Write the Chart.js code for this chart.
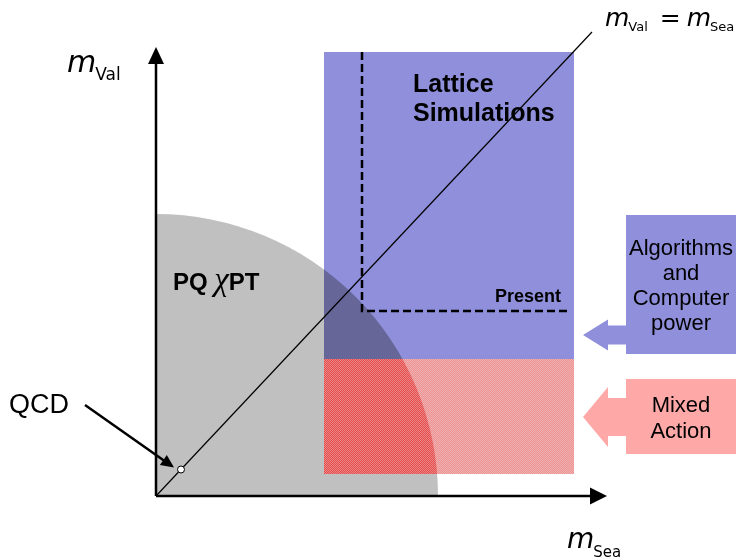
<!DOCTYPE html>
<html>
<head>
<meta charset="utf-8">
<script src="https://cdn.jsdelivr.net/npm/chart.js@4.4.1/dist/chart.umd.min.js"></script>
<style>
  html, body { margin: 0; padding: 0; background: #fff; }
  #wrap { width: 736px; height: 560px; position: relative; }
</style>
</head>
<body>
<div id="wrap"><canvas id="chart"></canvas></div>
<script>
// diagram values, in (m_Sea, m_Val) units
const pqRadius = 2.82;              // PQ chiPT validity region
const latticeSea = [1.68, 4.18];    // m_Sea span of lattice simulations
const latticeVal = [1.37, 4.44];    // m_Val span of full dynamical runs
const mixedVal = [0.22, 1.37];      // m_Val span reached by mixed action
const presentSea = [2.06, 4.13];    // present frontier, m_Sea
const presentVal = [1.85, 4.44];    // present frontier, m_Val
const qcdPoint = [0.25, 0.265];
const diagonalEnd = [4.36, 4.64];   // m_Val = m_Sea line
const axisEnd = [4.51, 4.49];

const regionLabels = ['PQ', 'PT', 'Lattice', 'Simulations', 'Present'];
const algoLines = ['Algorithms', 'and', 'Computer', 'power'];
const mixedLines = ['Mixed', 'Action'];

const SANS = '"Liberation Sans", Arial, Helvetica, sans-serif';

function makePattern(base, dot) {
    const c = document.createElement('canvas');
    c.width = 2; c.height = 2;
    const g = c.getContext('2d');
    g.fillStyle = base; g.fillRect(0, 0, 2, 2);
    g.fillStyle = dot; g.fillRect(0, 0, 1, 1); g.fillRect(1, 1, 1, 1);
    return g.createPattern(c, 'repeat');
}

function blockArrow(ctx, tipX, tipY, baseX, boxX, headHalf, bodyHalf, color) {
    ctx.fillStyle = color;
    ctx.beginPath();
    ctx.moveTo(tipX, tipY);
    ctx.lineTo(baseX, tipY - headHalf);
    ctx.lineTo(baseX, tipY - bodyHalf);
    ctx.lineTo(boxX + 1, tipY - bodyHalf);
    ctx.lineTo(boxX + 1, tipY + bodyHalf);
    ctx.lineTo(baseX, tipY + bodyHalf);
    ctx.lineTo(baseX, tipY + headHalf);
    ctx.closePath();
    ctx.fill();
}

function arrowHead(ctx, x0, y0, x1, y1, len, half) {
    const a = Math.atan2(y1 - y0, x1 - x0);
    ctx.beginPath();
    ctx.moveTo(x1, y1);
    ctx.lineTo(x1 - len * Math.cos(a) + half * Math.sin(a), y1 - len * Math.sin(a) - half * Math.cos(a));
    ctx.lineTo(x1 - len * Math.cos(a) - half * Math.sin(a), y1 - len * Math.sin(a) + half * Math.cos(a));
    ctx.closePath();
    ctx.fill();
}

function massLabel(ctx, x, y, sub, mSize, subSize, drop) {
    ctx.font = 'oblique ' + mSize + 'px "DejaVu Sans"';
    ctx.textAlign = 'left';
    ctx.fillText('m', x, y);
    const w = ctx.measureText('m').width;
    ctx.font = subSize + 'px "DejaVu Sans"';
    ctx.fillText(sub, x + w - 1, y + drop);
    return x + w - 1 + ctx.measureText(sub).width;
}

const regions = {
    id: 'regions',
    beforeDatasetsDraw(chart) {
        const ctx = chart.ctx;
        const xs = chart.scales.x, ys = chart.scales.y;
        const X = v => xs.getPixelForValue(v), Y = v => ys.getPixelForValue(v);
        const ox = X(0), oy = Y(0);
        const r = X(pqRadius) - ox;
        const disk = () => { ctx.beginPath(); ctx.moveTo(ox, oy); ctx.arc(ox, oy, r, -Math.PI / 2, 0); ctx.closePath(); };

        ctx.save();
        // PQ chiPT region
        ctx.fillStyle = '#c0c0c0';
        disk(); ctx.fill();

        const lx0 = X(latticeSea[0]), lx1 = X(latticeSea[1]);
        // lattice simulations
        ctx.fillStyle = '#8f8fdb';
        ctx.fillRect(lx0, Y(latticeVal[1]), lx1 - lx0, Y(latticeVal[0]) - Y(latticeVal[1]));
        // mixed action
        ctx.fillStyle = makePattern('#f29393', '#ecb0b0');
        ctx.fillRect(lx0, Y(mixedVal[1]), lx1 - lx0, Y(mixedVal[0]) - Y(mixedVal[1]));

        // overlaps with the PQ region
        ctx.save();
        disk(); ctx.clip();
        ctx.fillStyle = '#666699';
        ctx.fillRect(lx0, Y(latticeVal[1]), lx1 - lx0, Y(latticeVal[0]) - Y(latticeVal[1]));
        ctx.fillStyle = makePattern('#ec4848', '#e48a8a');
        ctx.fillRect(lx0, Y(mixedVal[1]), lx1 - lx0, Y(mixedVal[0]) - Y(mixedVal[1]));
        ctx.restore();

        // present frontier
        ctx.strokeStyle = '#000';
        ctx.lineWidth = 2.5;
        ctx.setLineDash([8, 4]);
        ctx.beginPath();
        ctx.moveTo(X(presentSea[0]), Y(presentVal[1]));
        ctx.lineTo(X(presentSea[0]), Y(presentVal[0]));
        ctx.lineTo(X(presentSea[1]), Y(presentVal[0]));
        ctx.stroke();
        ctx.restore();
    },
    afterDatasetsDraw(chart) {
        const ctx = chart.ctx;
        const xs = chart.scales.x, ys = chart.scales.y;
        const X = v => xs.getPixelForValue(v), Y = v => ys.getPixelForValue(v);
        const ox = X(0), oy = Y(0);
        ctx.save();
        ctx.fillStyle = '#000';
        ctx.strokeStyle = '#000';

        // axes
        ctx.lineWidth = 2.5;
        ctx.beginPath();
        ctx.moveTo(ox, oy); ctx.lineTo(ox, Y(axisEnd[1]) + 10);
        ctx.moveTo(ox, oy); ctx.lineTo(X(axisEnd[0]) - 10, oy);
        ctx.stroke();
        arrowHead(ctx, ox, oy, ox, Y(axisEnd[1]), 17, 8);
        arrowHead(ctx, ox, oy, X(axisEnd[0]), oy, 17, 8.5);

        // QCD pointer
        const qx = X(qcdPoint[0]) - 7, qy = Y(qcdPoint[1]) - 2;
        ctx.beginPath();
        ctx.moveTo(85, 405); ctx.lineTo(qx - 8, qy - 5.5);
        ctx.stroke();
        arrowHead(ctx, 85, 405, qx, qy, 13, 6);
        ctx.font = '27px ' + SANS;
        ctx.textAlign = 'left';
        ctx.fillText('QCD', 9, 413);

        // region labels
        ctx.font = 'bold 25px ' + SANS;
        ctx.fillText(regionLabels[2], 413, 92);
        ctx.fillText(regionLabels[3], 413, 121);
        let px = 173;
        ctx.font = 'bold 24px ' + SANS;
        ctx.fillText(regionLabels[0], px, 290);
        px += ctx.measureText(regionLabels[0] + ' ').width;
        ctx.font = 'italic 33px "Liberation Serif", "Times New Roman", serif';
        ctx.fillText('\u03c7', px, 290);
        px += ctx.measureText('\u03c7').width;
        ctx.font = 'bold 24px ' + SANS;
        ctx.fillText(regionLabels[1], px, 290);
        ctx.font = 'bold 18px ' + SANS;
        ctx.textAlign = 'right';
        ctx.fillText(regionLabels[4], 561, 302);

        // side boxes
        const bx = X(4.70);
        blockArrow(ctx, 583, 335, 608, bx, 15.5, 9.5, '#8f8fdb');
        ctx.fillRect(bx, 215, 736 - bx, 139);
        blockArrow(ctx, 583, 417, 608, bx, 30, 19, '#ffa8a8');
        ctx.fillStyle = '#ffa8a8';
        ctx.fillRect(bx, 379, 736 - bx, 75);
        ctx.fillStyle = '#000';
        ctx.font = '22px ' + SANS;
        ctx.textAlign = 'center';
        algoLines.forEach((t, i) => ctx.fillText(t, 681, 255 + i * 25));
        mixedLines.forEach((t, i) => ctx.fillText(t, 681, 412 + i * 26));

        // axis titles
        massLabel(ctx, 67, 72, 'Val', 30, 17, 8);
        massLabel(ctx, 567, 548, 'Sea', 28, 15, 9);
        let tx = massLabel(ctx, 605, 26, 'Val', 25, 13, 5);
        ctx.font = '25px "DejaVu Sans"';
        ctx.textAlign = 'left';
        ctx.fillText('=', tx + 12, 26);
        tx += 12 + ctx.measureText('=').width + 6;
        massLabel(ctx, tx, 26, 'Sea', 25, 13, 5);
        ctx.restore();
    }
};

new Chart(document.getElementById('chart'), {
    type: 'scatter',
    data: {
        datasets: [{
            data: [{ x: qcdPoint[0], y: qcdPoint[1] }],
            pointRadius: 3.5,
            pointBackgroundColor: '#fff',
            pointBorderColor: '#000',
            pointBorderWidth: 1
        }, {
            data: [{ x: 0, y: 0 }, { x: diagonalEnd[0], y: diagonalEnd[1] }],
            showLine: true,
            borderColor: '#000',
            borderWidth: 1.2,
            pointRadius: 0
        }]
    },
    options: {
        responsive: true,
        maintainAspectRatio: false,
        animation: false,
        events: [],
        layout: { padding: 0, autoPadding: false },
        plugins: { legend: { display: false }, tooltip: { enabled: false } },
        scales: {
            x: { type: 'linear', display: false, min: -1.56, max: 5.80 },
            y: { type: 'linear', display: false, min: -0.64, max: 4.96 }
        }
    },
    plugins: [regions]
});
</script>
</body>
</html>
